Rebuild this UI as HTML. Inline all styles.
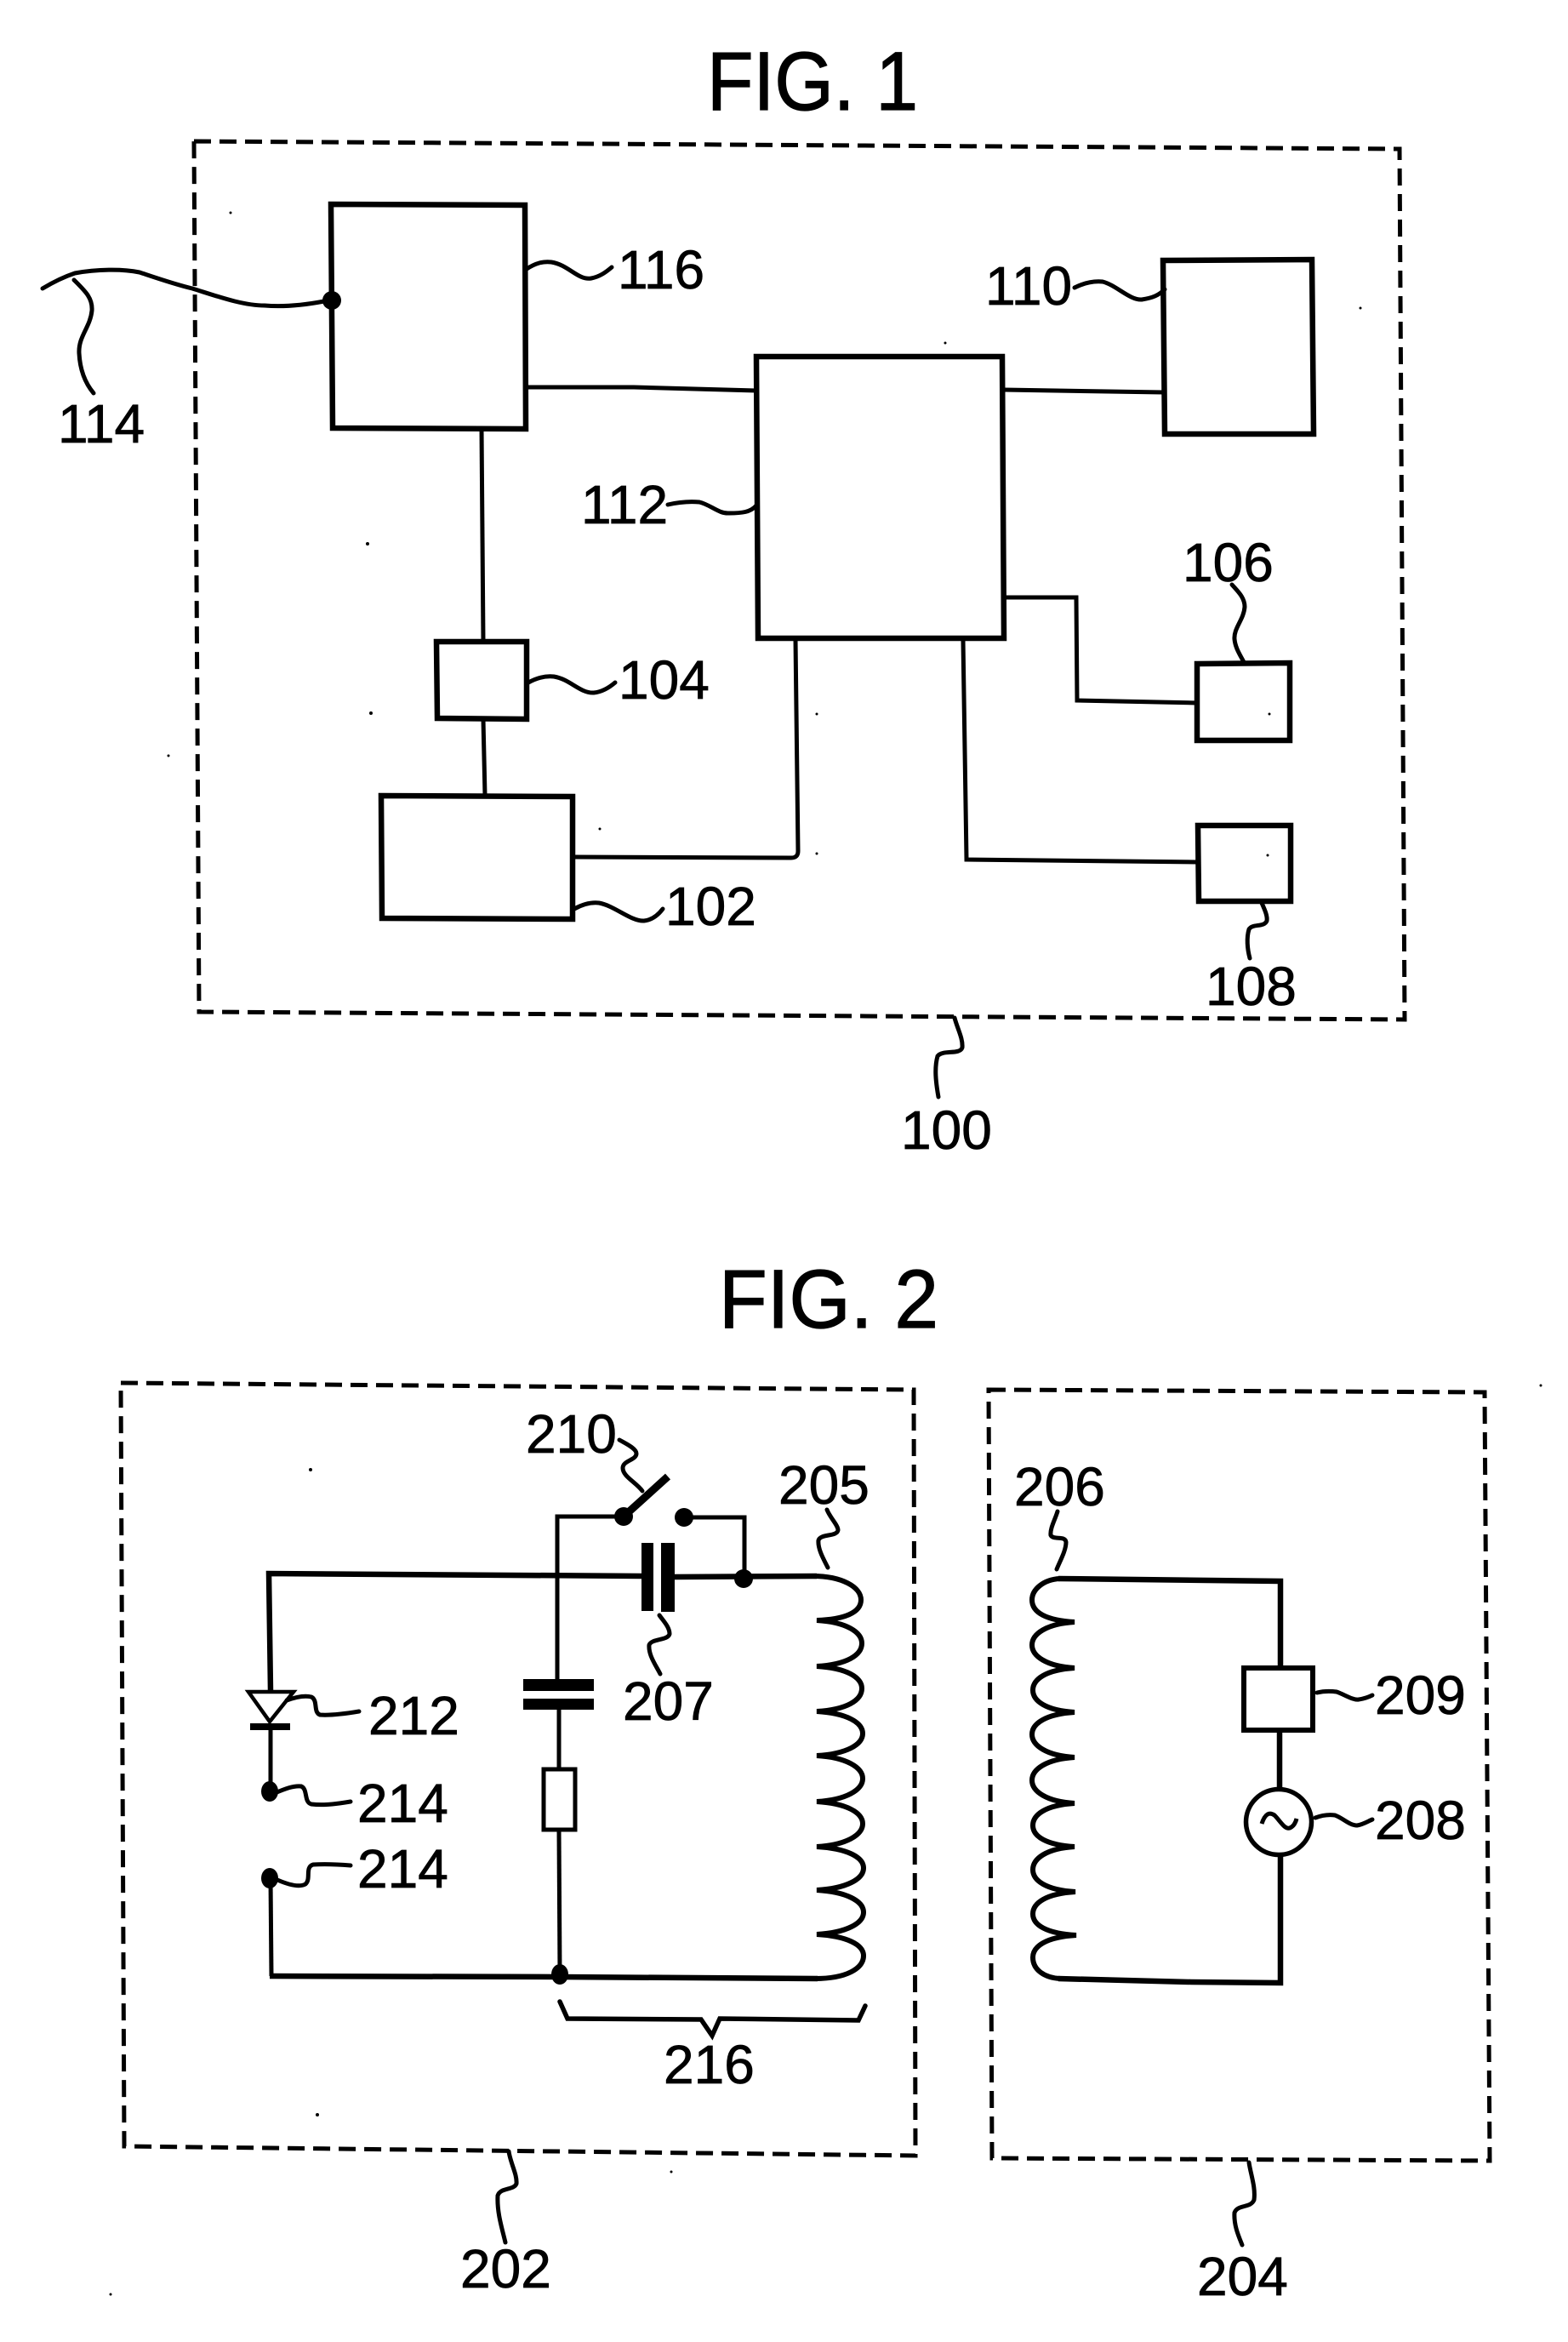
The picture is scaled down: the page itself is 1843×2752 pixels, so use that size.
<!DOCTYPE html>
<html lang="en"><head><meta charset="utf-8"><title>FIG. 1 and FIG. 2</title>
<style>
html,body{margin:0;padding:0;background:#fff}
svg{display:block}
text{font-family:"Liberation Sans",sans-serif;font-size:64px;fill:#000;stroke:#000;stroke-width:.8}
.t{font-size:97px;stroke-width:1.2}
.b{fill:none;stroke:#000;stroke-width:6.5;stroke-linejoin:miter}
.w{fill:none;stroke:#000;stroke-width:5;stroke-linejoin:miter}
.l{fill:none;stroke:#000;stroke-width:5;stroke-linecap:round}
.d{fill:none;stroke:#000;stroke-width:5;stroke-dasharray:20 10}
.c{fill:none;stroke:#000;stroke-width:6}
</style></head><body>
<svg xmlns="http://www.w3.org/2000/svg" width="1843" height="2752" viewBox="0 0 1843 2752">
<rect width="1843" height="2752" fill="#fff"/>

<!-- FIG 1 -->
<text class="t" x="831" y="129" textLength="248" lengthAdjust="spacingAndGlyphs">FIG. 1</text>
<polygon class="d" points="228,166 1645,175 1651,1198 234,1189"/>

<polygon class="b" points="389,240 617,241 618,504 391,503"/>
<polygon class="b" points="889,419 1178,419 1180,750 891,750"/>
<polygon class="b" points="1367,306 1542,305 1544,510 1369,510"/>
<polygon class="b" points="513,754 619,754 619,845 514,844"/>
<polygon class="b" points="448,935 673,936 673,1080 449,1079"/>
<polygon class="b" points="1407,780 1516,779 1516,870 1407,870"/>
<polygon class="b" points="1408,970 1517,970 1517,1059 1409,1059"/>

<path class="w" d="M619,455 L745,455 L889,459"/>
<path class="w" d="M1180,458 L1367,461"/>
<path class="w" d="M566,504 L568,753"/>
<path class="w" d="M568,845 L570,934"/>
<path class="w" d="M675,1007 L930,1008 Q938,1008 938,1000 L935,751"/>
<path class="w" d="M1132,752 L1136,1010 L1407,1013"/>
<path class="w" d="M1180,702 L1265,702 L1266,823 L1407,826"/>

<path class="l" d="M50,339 C65,330 76,325 88,321 C115,316 145,316 164,320 C185,327 205,334 226,339 C255,348 285,359 311,359 C335,361 360,358 381,354"/>
<ellipse cx="390" cy="353" rx="11" ry="11"/>
<path class="l" d="M87,329 C100,342 109,350 108,365 C106,385 92,395 93,415 C94,435 100,450 110,462"/>

<path class="l" d="M619,316 C630,309 638,307 648,308 C668,311 680,330 695,327 C705,325 712,320 719,314"/>
<path class="l" d="M785,593 C798,590 810,589 822,590 C835,593 845,604 857,603 C872,603 882,602 889,594"/>
<path class="l" d="M1263,338 C1275,332 1285,330 1296,331 C1312,335 1328,353 1342,352 C1355,350 1362,347 1369,340"/>
<path class="l" d="M621,802 C632,796 642,794 651,795 C670,798 682,815 698,814 C708,813 716,808 723,802"/>
<path class="l" d="M675,1068 C686,1062 695,1060 704,1061 C722,1064 742,1083 757,1082 C766,1081 773,1076 779,1068"/>
<path class="l" d="M1448,687 C1455,695 1463,702 1463,713 C1462,728 1450,738 1451,751 C1452,762 1458,770 1463,780"/>
<path class="l" d="M1483,1061 C1486,1068 1490,1076 1489,1082 C1486,1090 1472,1085 1468,1092 C1465,1102 1466,1115 1469,1126"/>
<path class="l" d="M1122,1196 C1125,1208 1132,1220 1131,1231 C1128,1240 1108,1233 1102,1241 C1098,1255 1100,1272 1103,1289"/>

<text x="68" y="520">114</text>
<text x="726" y="339">116</text>
<text x="683" y="615">112</text>
<text x="1158" y="358">110</text>
<text x="727" y="821">104</text>
<text x="782" y="1087">102</text>
<text x="1390" y="683">106</text>
<text x="1417" y="1181">108</text>
<text x="1059" y="1350">100</text>

<!-- FIG 2 -->
<text class="t" x="845" y="1560" textLength="258" lengthAdjust="spacingAndGlyphs">FIG. 2</text>
<polygon class="d" points="142,1625 1074,1633 1076,2533 146,2522"/>
<polygon class="d" points="1162,1633 1745,1636 1751,2539 1166,2536"/>

<!-- left circuit -->
<path class="b" d="M318,1987 L316,1849 L754,1852"/>
<path class="b" d="M793,1853 L960,1852"/>
<rect x="754" y="1813" width="14" height="80"/>
<rect x="777" y="1813" width="16" height="81"/>
<circle cx="874" cy="1855" r="11"/>
<path class="w" d="M655,1973 L655,1782 L733,1782"/>
<circle cx="733" cy="1782" r="11"/>
<path d="M733,1782 L785,1735" stroke="#000" stroke-width="9" fill="none"/>
<circle cx="804" cy="1783" r="11"/>
<path class="w" d="M804,1783 L875,1783 L875,1855"/>
<rect x="615" y="1973" width="83" height="14"/>
<rect x="615" y="1996" width="83" height="13"/>
<path class="w" d="M657,2009 L657,2078"/>
<rect x="639" y="2079" width="37" height="71" fill="#fff" stroke="#000" stroke-width="5"/>
<path class="w" d="M657,2151 L658,2320"/>
<ellipse cx="658" cy="2320" rx="10" ry="12"/>
<polygon points="292,1988 345,1988 317,2023" fill="#fff" stroke="#000" stroke-width="4.5"/>
<rect x="294" y="2025" width="47" height="8"/>
<path class="w" d="M318,2030 L318,2105"/>
<ellipse cx="317" cy="2105" rx="10" ry="12"/>
<ellipse cx="317" cy="2207" rx="10" ry="12"/>
<path class="w" d="M318,2207 L319,2322"/>
<path class="b" d="M317,2322 L658,2323 L961,2325"/>

<path class="c" d="M955,1852 C990,1852 1012,1865 1012,1880 C1012,1895 992,1903 960,1904 C995,1906 1013,1918 1013,1931 C1013,1945 995,1956 960,1958 C995,1960 1013,1971 1013,1984 C1013,1998 995,2009 960,2011 C995,2013 1014,2024 1014,2037 C1014,2050 995,2061 960,2063 C995,2065 1014,2077 1014,2090 C1014,2103 995,2115 960,2117 C995,2119 1014,2130 1014,2143 C1014,2156 995,2168 960,2170 C995,2172 1015,2182 1015,2195 C1015,2208 995,2219 960,2221 C995,2223 1015,2234 1015,2247 C1015,2260 995,2271 960,2273 C995,2275 1015,2285 1015,2298 C1015,2313 995,2325 958,2325"/>

<path class="l" d="M728,1692 C735,1696 748,1702 748,1708 C748,1716 732,1716 732,1725 C732,1735 748,1742 755,1752"/>
<path class="l" d="M972,1774 C976,1784 985,1792 985,1798 C984,1806 964,1802 962,1810 C961,1820 968,1832 973,1842"/>
<path class="l" d="M775,1898 C780,1905 787,1912 787,1920 C785,1928 766,1925 763,1933 C762,1945 771,1957 776,1967"/>
<path class="l" d="M337,1998 C348,1994 358,1992 366,1994 C374,1998 368,2012 376,2015 C390,2016 410,2013 422,2011"/>
<path class="l" d="M323,2107 C335,2102 345,2098 354,2099 C362,2102 357,2118 366,2120 C382,2122 400,2119 412,2117"/>
<path class="l" d="M326,2209 C340,2215 352,2218 359,2214 C366,2208 358,2194 368,2191 C384,2190 400,2191 412,2192"/>
<path class="l" stroke-linecap="butt" d="M658,2352 L667,2372 L824,2373 L837,2392 L846,2372 L1009,2374 L1017,2357" style="stroke-width:5.5"/>
<path class="l" d="M598,2528 C600,2542 608,2555 607,2566 C604,2574 588,2570 585,2580 C584,2600 590,2618 594,2635"/>
<path class="l" d="M1468,2541 C1470,2555 1476,2570 1474,2585 C1470,2595 1455,2590 1451,2600 C1450,2615 1456,2628 1460,2638"/>

<text x="618" y="1707">210</text>
<text x="915" y="1767">205</text>
<text x="732" y="2021">207</text>
<text x="433" y="2038">212</text>
<text x="420" y="2141">214</text>
<text x="420" y="2218">214</text>
<text x="780" y="2448">216</text>
<text x="541" y="2688">202</text>
<text x="1407" y="2697">204</text>

<!-- right circuit -->
<path class="b" d="M1244,1855 L1505,1858 L1505,1960"/>
<rect x="1462" y="1960" width="81" height="73" fill="#fff" stroke="#000" stroke-width="6"/>
<path class="b" d="M1504,2033 L1504,2103"/>
<circle cx="1503" cy="2141" r="38.5" fill="#fff" stroke="#000" stroke-width="5.5"/>
<path class="w" d="M1483,2143 C1487,2131 1492,2129 1498,2133 C1505,2140 1510,2150 1516,2148 C1521,2146 1523,2141 1524,2137"/>
<path class="b" d="M1505,2179 L1505,2330 L1400,2329 L1244,2325"/>

<path class="c" d="M1246,1855 C1226,1856 1213,1868 1213,1880 C1213,1895 1230,1904 1263,1906 C1230,1908 1213,1920 1213,1933 C1213,1946 1230,1958 1263,1960 C1230,1962 1214,1973 1214,1986 C1214,1999 1230,2010 1263,2012 C1230,2014 1213,2025 1213,2038 C1213,2051 1230,2063 1263,2065 C1230,2067 1213,2079 1213,2092 C1213,2105 1230,2117 1263,2119 C1230,2121 1214,2132 1214,2145 C1214,2158 1230,2168 1263,2170 C1230,2172 1214,2184 1214,2197 C1214,2210 1230,2221 1264,2223 C1230,2225 1214,2236 1214,2249 C1214,2262 1230,2272 1265,2274 C1230,2276 1214,2287 1214,2300 C1214,2315 1228,2324 1246,2325"/>

<path class="l" d="M1243,1776 C1240,1786 1234,1796 1235,1804 C1238,1810 1252,1804 1253,1812 C1253,1822 1246,1834 1242,1844"/>
<path class="l" d="M1548,1989 C1556,1987 1564,1987 1571,1988 C1580,1991 1590,1998 1597,1997 C1604,1996 1609,1994 1613,1992"/>
<path class="l" d="M1546,2136 C1554,2133 1562,2132 1569,2133 C1578,2136 1586,2145 1595,2145 C1602,2144 1608,2140 1613,2138"/>

<text x="1192" y="1769">206</text>
<text x="1616" y="2014">209</text>
<text x="1616" y="2161">208</text>

<!-- scan specks -->
<g>
<circle cx="271" cy="250" r="1.5"/><circle cx="432" cy="639" r="2"/><circle cx="1111" cy="403" r="1.5"/>
<circle cx="1599" cy="362" r="1.5"/><circle cx="436" cy="838" r="2"/><circle cx="198" cy="888" r="1.5"/>
<circle cx="705" cy="974" r="1.5"/><circle cx="960" cy="839" r="1.5"/><circle cx="1492" cy="839" r="1.5"/>
<circle cx="960" cy="1003" r="1.5"/><circle cx="1490" cy="1005" r="1.5"/><circle cx="365" cy="1727" r="2"/>
<circle cx="373" cy="2485" r="2"/><circle cx="789" cy="2552" r="1.5"/><circle cx="130" cy="2696" r="1.5"/>
<circle cx="1811" cy="1628" r="1.5"/>
</g>
</svg>
</body></html>
